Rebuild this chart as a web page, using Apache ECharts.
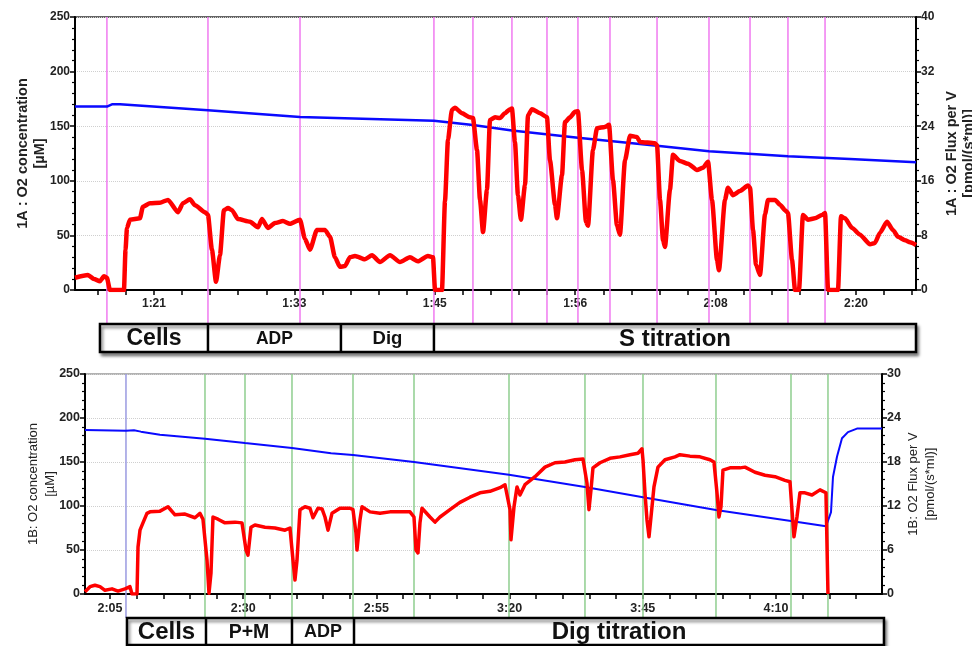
<!DOCTYPE html>
<html><head><meta charset="utf-8">
<script src="https://cdn.jsdelivr.net/npm/echarts@6/dist/echarts.min.js"></script>
<style>html,body{margin:0;padding:0;background:#fff}#c{width:972px;height:646px}</style>
</head><body><div id="c"></div>
<script>
// ---------- Panel 1A ----------
const topTickTimes = [81.2, 92.9, 104.6, 116.3, 128.0, 139.7];
const topTickLabels = ['1:21', '1:33', '1:45', '1:56', '2:08', '2:20'];
const topMarkers = [77.28, 85.7, 93.37, 104.53, 107.78, 111.03, 113.95, 116.53, 119.2, 123.12, 127.45, 130.87, 134.03, 137.12];
const topO2Time = [74.62, 77.28, 77.7, 78.37, 85.7, 93.37, 104.53, 107.78, 111.03, 116.53, 123.12, 127.45, 134.03, 139.2, 144.7];
const topO2 = [168, 168, 170, 170, 164.5, 158.5, 155, 151, 146, 139.5, 132, 127, 122.5, 120, 117];
const topFluxTime = [74.62, 75.7, 76.2, 76.7, 77.03, 77.28, 77.53, 78.7, 78.83, 78.95, 79.2, 80.03, 80.28, 80.87, 81.7, 82.37, 83.2, 83.62, 84.2, 84.62, 85.45, 85.7, 86.03, 86.37, 86.7, 87.03, 87.37, 87.7, 88.2, 89.2, 89.87, 90.2, 90.7, 91.28, 91.95, 92.53, 93.37, 93.78, 94.2, 94.78, 95.45, 95.87, 96.28, 96.7, 97.12, 97.53, 97.95, 98.78, 99.37, 100.03, 100.87, 101.7, 102.53, 103.2, 104.03, 104.45, 104.62, 105.2, 105.45, 105.7, 106.03, 106.28, 106.87, 107.53, 107.78, 108.12, 108.37, 108.62, 108.95, 109.2, 109.62, 110.03, 110.45, 110.87, 111.03, 111.28, 111.53, 111.78, 112.12, 112.37, 112.7, 113.37, 113.95, 114.2, 114.62, 114.78, 115.2, 115.45, 115.87, 116.28, 116.53, 116.87, 117.2, 117.37, 117.78, 118.12, 118.78, 119.12, 119.45, 119.78, 120.03, 120.45, 120.87, 121.45, 121.7, 122.95, 123.12, 123.37, 123.62, 123.78, 124.2, 124.45, 125.03, 125.7, 126.45, 126.95, 127.37, 127.7, 128.12, 128.28, 128.78, 129.03, 129.45, 130.03, 130.7, 130.87, 131.12, 131.37, 131.7, 132.12, 132.37, 132.95, 133.37, 133.78, 134.03, 134.37, 134.62, 134.95, 135.28, 135.7, 136.28, 136.87, 137.12, 137.37, 138.2, 138.45, 138.78, 139.37, 140.03, 140.87, 141.28, 141.7, 142.28, 142.78, 143.2, 143.78, 144.2, 144.7];
const topFlux = [1.8, 2.2, 1.6, 1.3, 2.0, 1.8, 0, 0, 5.9, 9.1, 10.3, 10.5, 12.2, 12.7, 12.8, 13.2, 11.4, 12.7, 13.3, 12.4, 11.4, 11.0, 5.9, 1.2, 5.1, 11.7, 12.0, 11.7, 10.4, 10.0, 9.2, 10.4, 9.1, 9.8, 10.1, 9.7, 10.3, 7.5, 5.9, 8.8, 8.8, 7.8, 4.8, 3.4, 3.5, 4.8, 5.0, 4.5, 5.1, 4.1, 5.1, 4.1, 4.8, 4.2, 5.0, 4.8, 0, 0, 13, 22, 26.4, 26.7, 25.9, 25.3, 25.2, 20.5, 13.2, 8.5, 14.7, 24.9, 25.3, 25.2, 25.9, 26.5, 26.6, 21.7, 13.9, 10.3, 15.4, 25.6, 26.5, 25.9, 25.3, 19.0, 12.5, 10.5, 16.8, 24.6, 25.3, 26.1, 26.2, 17.6, 10.0, 9.4, 20.5, 23.7, 23.9, 24.2, 16.1, 9.5, 8.1, 19.0, 22.6, 22.4, 21.7, 21.5, 21.2, 13.2, 7.3, 6.3, 14.7, 19.8, 18.9, 18.5, 17.6, 17.9, 18.8, 13.2, 4.4, 2.9, 13.2, 15.0, 13.9, 14.5, 15.3, 15.0, 8.8, 3.7, 2.2, 11.1, 13.2, 13.2, 12.5, 11.7, 11.3, 4.4, 0, 0, 11.0, 10.3, 10.5, 11.0, 11.3, 0, 0, 10.8, 10.5, 9.1, 8.1, 6.7, 6.9, 8.4, 10.0, 8.8, 7.8, 7.3, 7.0, 6.6];
const topPhases = ['Cells', 'ADP', 'Dig', 'S titration'];
const topPhaseEdges = [76.7, 85.7, 96.78, 104.53, 144.7];

// ---------- Panel 1B ----------
const botTickTimes = [125, 150, 175, 200, 225, 250];
const botTickLabels = ['2:05', '2:30', '2:55', '3:20', '3:45', '4:10'];
const botBlueMarkers = [128.0];
const botMarkers = [142.83, 150.34, 159.16, 170.61, 182.06, 199.89, 214.15, 225.04, 238.74, 252.82, 259.76];
const botO2Time = [120.31, 128.0, 129.5, 130.8, 134.38, 142.83, 150.34, 159.16, 166.5, 170.61, 182.06, 199.89, 214.15, 225.04, 238.74, 252.82, 259.4, 260.33, 260.7, 261.45, 262.39, 263.51, 265.2, 269.9];
const botO2 = [186.5, 185.5, 186, 184.5, 181, 176.5, 171.5, 166, 160, 158, 150, 135.5, 121.5, 110, 95.5, 83, 77, 93, 133, 156, 177, 184, 188, 188];
const botFluxTime = [120.31, 121.25, 122.18, 123.12, 124.06, 125.38, 126.5, 127.82, 128.75, 129.13, 130.07, 130.26, 130.63, 131.19, 131.94, 132.51, 134.38, 135.89, 137.2, 139.08, 140.95, 141.89, 142.45, 143.21, 143.58, 143.96, 144.33, 145.27, 146.58, 148.46, 149.77, 150.53, 150.9, 151.46, 152.21, 154.09, 155.97, 157.85, 158.78, 159.35, 159.72, 160.1, 160.66, 161.6, 162.54, 163.1, 164.04, 164.8, 165.35, 165.92, 166.67, 168.17, 170.05, 170.61, 171.17, 171.36, 171.92, 172.3, 173.8, 175.68, 177.55, 179.43, 181.31, 182.06, 182.43, 182.81, 183.18, 183.56, 185.06, 186.0, 186.94, 188.81, 190.69, 192.57, 194.44, 196.32, 198.2, 199.14, 200.08, 200.26, 200.83, 201.39, 201.95, 202.89, 204.77, 206.64, 208.52, 210.4, 212.28, 213.78, 214.53, 214.9, 215.28, 215.65, 216.97, 218.84, 220.72, 222.6, 224.1, 224.85, 225.04, 225.41, 225.79, 226.17, 226.54, 227.1, 227.85, 229.17, 231.05, 231.98, 233.86, 235.74, 237.61, 238.36, 238.93, 239.3, 239.68, 240.05, 241.37, 243.24, 244.18, 246.06, 247.94, 249.81, 251.69, 252.63, 253.0, 253.38, 253.94, 254.5, 255.44, 256.76, 258.26, 259.38, 259.76];
const botFlux = [0.3, 1.0, 1.2, 1.0, 0.5, 0.7, 0.4, 0.7, 1.0, 0, 0, 6.4, 8.7, 9.7, 11.0, 11.2, 11.3, 11.9, 10.8, 10.9, 10.4, 11.0, 10.2, 4.6, 0.1, 2.9, 10.5, 10.2, 9.7, 9.8, 9.7, 6.0, 5.3, 9.1, 9.4, 9.1, 9.0, 8.7, 9.0, 4.6, 1.9, 4.6, 11.5, 11.9, 11.7, 10.4, 11.7, 11.6, 10.5, 8.7, 11.0, 11.7, 11.7, 11.5, 8.3, 6.0, 10.1, 11.9, 11.2, 11.0, 11.2, 11.2, 11.2, 10.5, 6.0, 5.6, 9.7, 11.7, 10.5, 9.8, 10.5, 11.5, 12.5, 13.2, 13.8, 14.0, 14.5, 14.9, 11.5, 7.4, 11.9, 14.6, 13.5, 14.9, 16.0, 17.3, 17.9, 18.0, 18.3, 18.4, 15.1, 11.5, 14.2, 17.2, 17.9, 18.5, 18.7, 19.0, 19.2, 19.8, 18.3, 13.8, 10.1, 7.8, 10.5, 14.6, 17.3, 18.3, 18.7, 19.0, 18.8, 18.7, 18.3, 18.0, 13.8, 10.5, 11.9, 16.9, 17.2, 17.2, 17.3, 16.6, 16.2, 16.0, 15.5, 15.3, 11.5, 7.8, 10.5, 13.8, 13.8, 13.5, 14.2, 13.8, 0];
const botPhases = ['Cells', 'P+M', 'ADP', 'Dig titration'];
const botPhaseEdges = [128.19, 143.02, 159.16, 170.8, 270.27];

// ---------- helpers ----------
const FONT = '"Liberation Sans", Arial, sans-serif';
const pairs = (ts, vs) => ts.map((t, i) => [t, vs[i]]);
function withMinor(major, lo, hi, n) {
  const step = (major[1] - major[0]) / n;
  let s = major[0];
  while (s - step >= lo - 1e-6) s -= step;
  const out = [];
  for (let v = s; v <= hi + 1e-6; v += step) out.push(+v.toFixed(4));
  return out;
}
function labelFor(times, labels) {
  return v => { let bi = 0, bd = 1e9; times.forEach((t, i) => { const d = Math.abs(t - v); if (d < bd) { bd = d; bi = i; } }); return bd < 0.01 ? labels[bi] : ''; };
}
const markerRender = (color) => (params, api) => {
  const x = api.coord([api.value(0), 0])[0];
  const cs = params.coordSys;
  return { type: 'line', shape: { x1: x, y1: cs.y, x2: x, y2: cs.y + cs.height }, style: { stroke: color, lineWidth: 1.5 } };
};

const TOP_MIN = 74.62, TOP_MAX = 144.7, BOT_MIN = 120.31, BOT_MAX = 269.9;

function xAxisCfg(grid, min, max, ticks, labels, fs) {
  return {
    type: 'value', gridIndex: grid, min: min, max: max,
    axisLine: { lineStyle: { color: '#000', width: 2 } },
    axisTick: { customValues: withMinor(ticks, min, max, 5), length: 5, lineStyle: { color: '#000', width: 1.5 } },
    axisLabel: { customValues: ticks, formatter: labelFor(ticks, labels), color: '#222', fontFamily: FONT, fontWeight: 'bold', fontSize: fs, margin: 8 },
    splitLine: { show: false }, minorTick: { show: false }
  };
}
function yAxisCfg(grid, pos, max, interval, name, nameFont, gap, split, fs) {
  return {
    type: 'value', gridIndex: grid, position: pos, min: 0, max: max, interval: interval,
    name: name, nameLocation: 'middle', nameRotate: 90, nameGap: gap, nameTextStyle: nameFont, nameMoveOverlap: false,
    axisLine: { show: true, lineStyle: { color: '#000', width: 2 } },
    axisTick: { show: true, length: 5, lineStyle: { color: '#000', width: 1.5 } },
    minorTick: { show: true, splitNumber: 5, length: 3, lineStyle: { color: '#000', width: 1.2 } },
    axisLabel: { color: '#222', fontFamily: FONT, fontWeight: 'bold', fontSize: fs, margin: 5 },
    splitLine: { show: split, lineStyle: { color: '#cfcfcf', type: 'dotted', width: 1 } }
  };
}
const topName = { fontFamily: FONT, fontWeight: 'bold', fontSize: 14.5, color: '#222', lineHeight: 17 };
const botName = { fontFamily: FONT, fontWeight: 'normal', fontSize: 13, color: '#222', lineHeight: 17 };

const chart = echarts.init(document.getElementById('c'));
chart.setOption({
  animation: false,
  backgroundColor: '#fff',
  grid: [
    { left: 75, right: 56, top: 17, height: 273, show: true, borderColor: '#333', borderWidth: 1.5, backgroundColor: 'transparent', outerBoundsMode: 'none', containLabel: false },
    { left: 85, right: 90, top: 374, height: 220, show: true, borderColor: '#999', borderWidth: 1.5, backgroundColor: 'transparent', outerBoundsMode: 'none', containLabel: false },
    { left: 75, right: 56, top: 17, height: 306, outerBoundsMode: 'none', containLabel: false },
    { left: 85, right: 90, top: 374, height: 244, outerBoundsMode: 'none', containLabel: false }
  ],
  xAxis: [
    xAxisCfg(0, TOP_MIN, TOP_MAX, topTickTimes, topTickLabels, 12),
    xAxisCfg(1, BOT_MIN, BOT_MAX, botTickTimes, botTickLabels, 12.5),
    { type: 'value', gridIndex: 2, min: TOP_MIN, max: TOP_MAX, show: false },
    { type: 'value', gridIndex: 3, min: BOT_MIN, max: BOT_MAX, show: false }
  ],
  yAxis: [
    yAxisCfg(0, 'left', 250, 50, '1A : O2 concentration\n[µM]', topName, 27, true, 12),
    yAxisCfg(0, 'right', 40, 8, '1A : O2 Flux per V\n[pmol/(s*ml)]', topName, 27.5, false, 12),
    yAxisCfg(1, 'left', 250, 50, '1B: O2 concentration\n[µM]', botName, 26.5, true, 12.5),
    yAxisCfg(1, 'right', 30, 6, '1B: O2 Flux per V\n[pmol/(s*ml)]', botName, 22.5, false, 12.5),
    { type: 'value', gridIndex: 2, min: 0, max: 1, show: false },
    { type: 'value', gridIndex: 3, min: 0, max: 1, show: false }
  ],
  series: [
    { type: 'custom', xAxisIndex: 2, yAxisIndex: 4, z: 1, silent: true, renderItem: markerRender('#f07af0'), encode: { x: 0, y: 1 }, data: topMarkers.map(t => [t, 0]) },
    { type: 'custom', xAxisIndex: 3, yAxisIndex: 5, z: 1, silent: true, renderItem: markerRender('#8fce8f'), encode: { x: 0, y: 1 }, data: botMarkers.map(t => [t, 0]) },
    { type: 'custom', xAxisIndex: 3, yAxisIndex: 5, z: 1, silent: true, renderItem: markerRender('#9a9ae0'), encode: { x: 0, y: 1 }, data: botBlueMarkers.map(t => [t, 0]) },
    { type: 'line', xAxisIndex: 0, yAxisIndex: 0, z: 3, showSymbol: false, data: pairs(topO2Time, topO2), lineStyle: { color: '#0a0aff', width: 2.5 } },
    { type: 'line', xAxisIndex: 0, yAxisIndex: 1, z: 4, showSymbol: false, smooth: 0.2, smoothMonotone: 'x', data: pairs(topFluxTime, topFlux), lineStyle: { color: '#ff0000', width: 4.5, join: 'round' } },
    { type: 'line', xAxisIndex: 1, yAxisIndex: 2, z: 3, showSymbol: false, data: pairs(botO2Time, botO2), lineStyle: { color: '#0a0aff', width: 2 } },
    { type: 'line', xAxisIndex: 1, yAxisIndex: 3, z: 4, showSymbol: false, data: pairs(botFluxTime, botFlux), lineStyle: { color: '#ff0000', width: 3.5, join: 'round' } }
  ]
});

function boxes(xAxisIndex, phases, edges, top, h, fonts) {
  const els = [];
  const px = edges.map(t => chart.convertToPixel({ xAxisIndex: xAxisIndex }, t));
  els.push({ type: 'rect', z: 100, shape: { x: px[0], y: top, width: px[px.length - 1] - px[0], height: h },
    style: { fill: '#fff', stroke: '#000', lineWidth: 2.5, shadowBlur: 3, shadowOffsetX: 2, shadowOffsetY: 3, shadowColor: 'rgba(0,0,0,0.45)' } });
  phases.forEach((p, i) => {
    if (i > 0) els.push({ type: 'line', z: 101, shape: { x1: px[i], y1: top, x2: px[i], y2: top + h }, style: { stroke: '#000', lineWidth: 2.5 } });
    els.push({ type: 'text', z: 102, x: (px[i] + px[i + 1]) / 2, y: top + h / 2 + 1,
      style: { text: p, fill: '#111', font: 'bold ' + fonts[i] + 'px ' + FONT, align: 'center', verticalAlign: 'middle' } });
  });
  return els;
}
chart.setOption({
  graphic: [].concat(
    boxes(0, topPhases, topPhaseEdges, 324, 28, [23, 17.5, 18.5, 24]),
    boxes(1, botPhases, botPhaseEdges, 618, 27, [24, 19.5, 18, 24])
  )
});
</script></body></html>
